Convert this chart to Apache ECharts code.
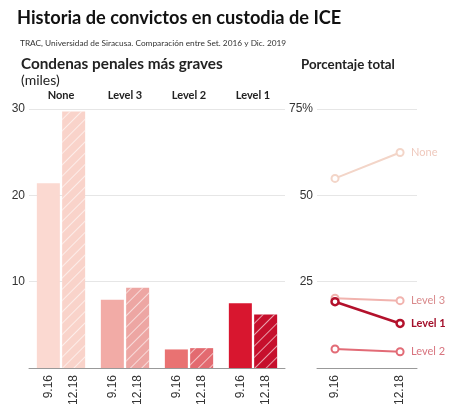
<!DOCTYPE html>
<html><head><meta charset="utf-8">
<script src="https://cdn.jsdelivr.net/npm/echarts@6/dist/echarts.min.js"></script>
<style>html,body{margin:0;padding:0;background:#fff}#c{width:459px;height:411px}</style>
</head><body><div id="c"></div>
<script>
// Data
const groups = ['None', 'Level 3', 'Level 2', 'Level 1'];
const periods = ['9.16', '12.18'];
const countsSep2016 = [21.4, 7.9, 2.15, 7.5];   // thousands
const countsDec2019 = [29.7, 9.3, 2.3, 6.2];    // thousands
const pctNone = [54.9, 62.4];
const pctLevel3 = [20.2, 19.5];
const pctLevel1 = [19.2, 12.9];
const pctLevel2 = [5.5, 4.7];
const barTicks = [0, 10, 20, 30];
const pctTicks = [0, 25, 50, 75];

const colA = ['#fbd9d1', '#f2aba6', '#e97272', '#d8162f'];
const colB = ['#f9d3ca', '#eda6a3', '#e36a70', '#c60f2c'];

const chart = echarts.init(document.getElementById('c'), null, {renderer: 'canvas'});
const fontNum = 'Liberation Sans, Arial, sans-serif';
const fontHead = 'Lato, Open Sans, sans-serif';

const lineSeries = (name, data, color, labelColor, width, bold, z) => ({
  type: 'line', name, xAxisIndex: 2, yAxisIndex: 1,
  data: data.map((v, i) => [i, v]),
  symbol: 'circle', symbolSize: 7, showSymbol: true, z,
  itemStyle: {color: '#fff', borderColor: color, borderWidth: width},
  lineStyle: {color, width},
  emphasis: {disabled: true},
  endLabel: {show: true, formatter: name, color: labelColor, distance: 11,
    fontFamily: fontHead, fontSize: 11, fontWeight: bold ? 'bold' : 'normal'}
});

chart.setOption({
  animation: false,
  title: [
    {text: 'Historia de convictos en custodia de ICE', left: 12, top: 4,
      textStyle: {fontFamily: fontHead, fontWeight: 'bold', fontSize: 18.2, color: '#111'}},
    {text: 'TRAC, Universidad de Siracusa. Comparación entre Set. 2016 y Dic. 2019', left: 15, top: 34,
      textStyle: {fontFamily: fontHead, fontWeight: 'normal', fontSize: 8.3, color: '#333'}},
    {text: 'Condenas penales más graves', left: 16, top: 52,
      textStyle: {fontFamily: fontHead, fontWeight: 'bold', fontSize: 15.3, color: '#222'}},
    {text: '(miles)', left: 16, top: 68,
      textStyle: {fontFamily: fontHead, fontWeight: 'normal', fontSize: 14, color: '#222'}},
    {text: 'Porcentaje total', left: 296, top: 53,
      textStyle: {fontFamily: fontHead, fontWeight: 'bold', fontSize: 13.3, color: '#222'}}
  ],
  grid: [
    {left: 29, width: 256, top: 109, height: 259},
    {left: 317, width: 100, top: 109, height: 259}
  ],
  xAxis: [
    {type: 'category', gridIndex: 0, data: groups, position: 'bottom',
      axisLine: {lineStyle: {color: '#999', width: 1}}, axisTick: {show: false},
      axisLabel: {show: false}},
    {type: 'category', gridIndex: 0, data: groups, position: 'top',
      axisLine: {show: false}, axisTick: {show: false},
      axisLabel: {show: true, margin: 8, fontFamily: fontHead, fontWeight: 'bold', fontSize: 11, color: '#222'}},
    {type: 'value', gridIndex: 1, min: -0.277, max: 1.26,
      axisLine: {show: true, lineStyle: {color: '#999'}}, axisTick: {show: false},
      splitLine: {show: false},
      axisLabel: {customValues: [0, 1], rotate: 90, margin: 7, fontFamily: fontNum, fontSize: 12, color: '#333',
        formatter: v => periods[Math.round(v)]}}
  ],
  yAxis: [
    {type: 'value', gridIndex: 0, min: barTicks[0], max: barTicks[3], interval: 10,
      axisLine: {show: false}, axisTick: {show: false},
      splitLine: {lineStyle: {color: '#e6e6e6'}},
      axisLabel: {margin: 4, fontFamily: fontNum, fontSize: 12, color: '#333',
        formatter: v => v === 0 ? '' : String(v)}},
    {type: 'value', gridIndex: 1, min: pctTicks[0], max: pctTicks[3], interval: 25,
      axisLine: {show: false}, axisTick: {show: false},
      splitLine: {lineStyle: {color: '#e6e6e6'}},
      axisLabel: {margin: 4, fontFamily: fontNum, fontSize: 12, color: '#333',
        formatter: v => v === 0 ? '' : (v === 75 ? '75%' : String(v))}}
  ],
  series: [
    {type: 'bar', name: periods[0], xAxisIndex: 0, yAxisIndex: 0, barWidth: 23, barGap: '10%',
      data: countsSep2016.map((v, i) => ({value: v, itemStyle: {color: colA[i]}})),
      label: {show: true, position: 'bottom', rotate: 90, align: 'right', verticalAlign: 'middle',
        distance: 7, formatter: periods[0], fontFamily: fontNum, fontSize: 12, color: '#333'},
      emphasis: {disabled: true}},
    {type: 'bar', name: periods[1], xAxisIndex: 0, yAxisIndex: 0, barWidth: 23,
      data: countsDec2019.map((v, i) => ({value: v, itemStyle: {color: colB[i],
        decal: {symbol: 'rect', symbolSize: 1, color: 'rgba(255,255,255,0.6)',
          dashArrayX: [1, 0], dashArrayY: [1, 7], rotation: -Math.PI / 4}}})),
      label: {show: true, position: 'bottom', rotate: 90, align: 'right', verticalAlign: 'middle',
        distance: 7, formatter: periods[1], fontFamily: fontNum, fontSize: 12, color: '#333'},
      emphasis: {disabled: true}},
    lineSeries('None', pctNone, '#f3d5c8', '#efc9bd', 2, false, 2),
    lineSeries('Level 3', pctLevel3, '#f1b3ae', '#d98a8c', 2, false, 3),
    lineSeries('Level 2', pctLevel2, '#e26b76', '#d8747f', 2, false, 3),
    lineSeries('Level 1', pctLevel1, '#b3112c', '#a30f2a', 2.5, true, 4)
  ]
});
</script></body></html>
